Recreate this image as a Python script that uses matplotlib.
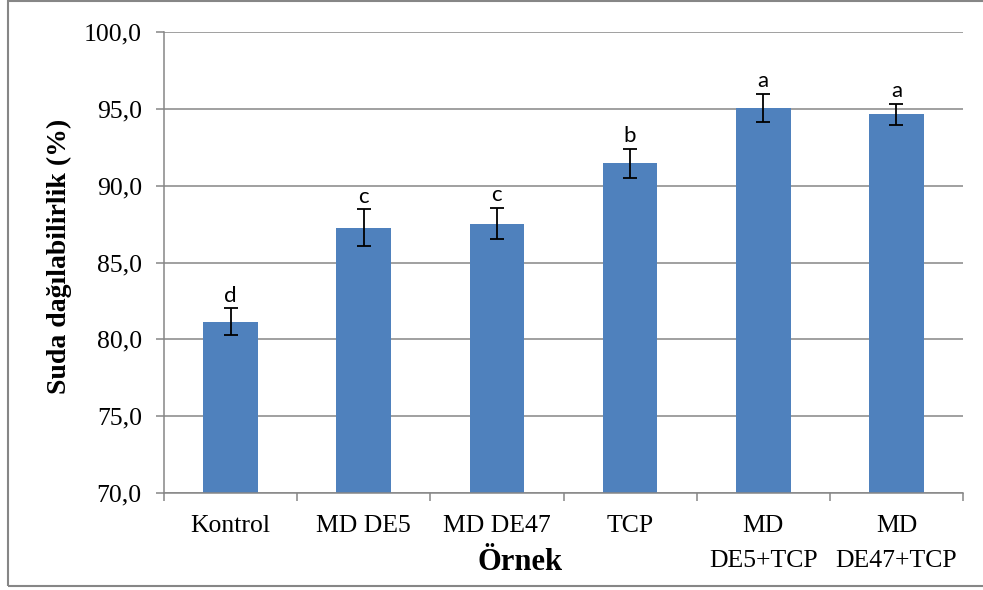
import numpy as np
import matplotlib.pyplot as plt
from matplotlib.patches import Rectangle
from matplotlib.ticker import FuncFormatter

# Suda dağılabilirlik verileri
ornekler = ['Kontrol', 'MD DE5', 'MD DE47', 'TCP', 'MD\nDE5+TCP', 'MD\nDE47+TCP']
ortalama = [81.14, 87.26, 87.52, 91.45, 95.07, 94.64]
hata = [0.88, 1.20, 1.02, 0.93, 0.91, 0.67]
harfler = ['d', 'c', 'c', 'b', 'a', 'a']

gri = '#868686'
mavi = '#4F81BD'
serif = 'Liberation Serif'

fig = plt.figure(figsize=(9.83, 5.90), dpi=100)
ax = fig.add_axes([164/983, 1 - 493/590, 799/983, 461/590])

x = np.arange(len(ornekler))
ax.bar(x, ortalama, width=0.41, color=mavi, zorder=2)
ax.errorbar(x, ortalama, yerr=hata, fmt='none', ecolor='black',
            elinewidth=1.3, capsize=4.8, capthick=1.3, zorder=3)

for xi, m, e, h in zip(x, ortalama, hata, harfler):
    ax.annotate(h, (xi, m + e), xytext=(0, 2), textcoords='offset points',
                ha='center', va='bottom', fontsize=16, family='Lato')

ax.set_xlim(-0.5, len(ornekler) - 0.5)
ax.set_ylim(70, 100)
ax.set_yticks(np.arange(70, 100.1, 5))
ax.yaxis.set_major_formatter(FuncFormatter(lambda v, p: f'{v:.1f}'.replace('.', ',')))
ax.grid(axis='y', color=gri, linewidth=1.1, zorder=0)

# kategori etiketleri ortada, çentikler kategori sınırlarında
ax.set_xticks(x)
ax.set_xticklabels(ornekler, family=serif, fontsize=18.5, linespacing=1.75)
ax.set_xticks(np.arange(-0.5, len(ornekler)), minor=True)
ax.tick_params(axis='x', which='major', length=0, pad=16)
ax.tick_params(axis='x', which='minor', length=6, width=1.1, color=gri, direction='out')
ax.tick_params(axis='y', length=6, width=1.1, color=gri, pad=10, labelsize=18.5)
for t in ax.get_yticklabels():
    t.set_family(serif)

for s in ['top', 'right']:
    ax.spines[s].set_visible(False)
for s in ['left', 'bottom']:
    ax.spines[s].set_color(gri)
    ax.spines[s].set_linewidth(1.1)

fig.text(59/983, 1 - 256/590, 'Suda dağılabilirlik (%)', rotation=90,
         ha='center', va='center', family=serif, fontweight='bold', fontsize=20)
fig.text(520/983, 1 - 563/590, 'Örnek', ha='center', va='center',
         family=serif, fontweight='bold', fontsize=22)

# grafik çerçevesi
fig.patches.append(Rectangle((8/983, 4/590), 1.02, 585/590, transform=fig.transFigure,
                             fill=False, edgecolor=gri, linewidth=1.5, clip_on=False))

fig.savefig('out.png', dpi=100)
